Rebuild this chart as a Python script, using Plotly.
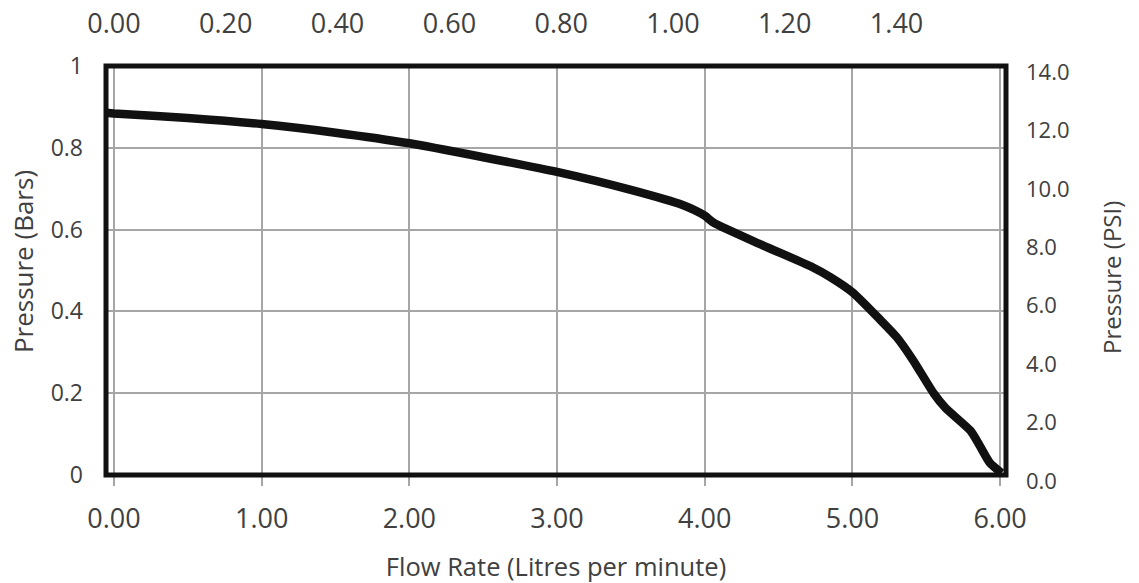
import plotly.graph_objects as go

# Flow rate (litres per minute) and pressure (bars)
flow_lpm = [-0.054, 0.0, 0.5, 1.0, 1.5, 2.0, 2.5, 3.0, 3.5, 3.85, 4.0, 4.06, 4.39, 4.73,
            4.85, 5.0, 5.19, 5.30, 5.41, 5.55, 5.63, 5.80, 5.86, 5.93, 6.01]
pressure_bar = [0.886, 0.884, 0.873, 0.858, 0.837, 0.811, 0.777, 0.741, 0.697, 0.660, 0.634, 0.617,
                0.562, 0.508, 0.484, 0.447, 0.379, 0.337, 0.281, 0.200, 0.164, 0.108, 0.073, 0.030, 0.005]

LITRES_PER_GALLON = 3.785
PSI_PER_BAR_AXIS = 14.0

x_range = [-0.054, 6.04]
y_range = [0, 1]

bottom_ticks = [0, 1, 2, 3, 4, 5, 6]
top_ticks = [0.0, 0.2, 0.4, 0.6, 0.8, 1.0, 1.2, 1.4]
left_ticks = [0, 0.2, 0.4, 0.6, 0.8, 1]
right_ticks = [0, 2, 4, 6, 8, 10, 12, 14]

x_title = "Flow Rate (Litres per minute)"
y_title = "Pressure (Bars)"
y2_title = "Pressure (PSI)"

FONT = "Open Sans"
TXT = "#404040"
GRID = "#a6a6a6"

fig = go.Figure()
fig.add_trace(go.Scatter(
    x=flow_lpm, y=pressure_bar, mode="lines",
    line=dict(color="#111111", width=8.5, shape="spline", smoothing=0.6),
    xaxis="x", yaxis="y", showlegend=False, hoverinfo="skip",
))
# companion trace in gallons / psi to anchor the secondary axes
fig.add_trace(go.Scatter(
    x=[v / LITRES_PER_GALLON for v in flow_lpm],
    y=[p * PSI_PER_BAR_AXIS for p in pressure_bar],
    mode="lines", line=dict(width=0, color="rgba(0,0,0,0)"),
    xaxis="x2", yaxis="y2", showlegend=False, hoverinfo="skip",
))

fig.update_layout(
    width=1139, height=583,
    margin=dict(l=106, r=133, t=66, b=108),
    paper_bgcolor="white", plot_bgcolor="white",
    font=dict(family=FONT, color=TXT),
    hovermode=False,
    xaxis=dict(
        range=x_range, tickvals=bottom_ticks, tickformat=".2f",
        showgrid=True, gridcolor=GRID, gridwidth=2,
        ticks="outside", ticklen=10, tickcolor=GRID, tickwidth=2,
        ticklabelstandoff=10,
        tickfont=dict(size=27, color=TXT), zeroline=False, showline=False,
        automargin=False,
        title=dict(text=x_title, font=dict(size=25.5, color=TXT), standoff=29),
    ),
    xaxis2=dict(
        overlaying="x", side="top",
        range=[v / LITRES_PER_GALLON for v in x_range],
        tickvals=top_ticks, tickformat=".2f",
        showgrid=False, zeroline=False, showline=False, ticks="",
        ticklabelstandoff=27, automargin=False,
        tickfont=dict(size=27, color=TXT),
    ),
    yaxis=dict(
        range=y_range, tickvals=left_ticks,
        showgrid=True, gridcolor=GRID, gridwidth=2,
        ticks="", zeroline=False, showline=False,
        ticklabelstandoff=22, automargin=False,
        tickfont=dict(size=23, color=TXT),
    ),
    yaxis2=dict(
        overlaying="y", side="right",
        range=[v * PSI_PER_BAR_AXIS for v in y_range],
        tickvals=right_ticks, tickformat=".1f",
        showgrid=False, zeroline=False, showline=False, ticks="",
        ticklabelstandoff=19, ticklabelshift=6, automargin=False,
        tickfont=dict(size=22, color=TXT),
    ),
    annotations=[
        dict(text=y_title, xref="paper", yref="paper", x=-0.092, y=0.521,
             xanchor="center", yanchor="middle", textangle=-90, showarrow=False,
             font=dict(size=26, color=TXT)),
        dict(text=y2_title, xref="paper", yref="paper", x=1.1178, y=0.4817,
             xanchor="center", yanchor="middle", textangle=-90, showarrow=False,
             font=dict(size=24, color=TXT)),
    ],
    shapes=[dict(type="rect", xref="paper", yref="paper", x0=0, x1=1, y0=0, y1=1,
                 line=dict(color="#111111", width=5), layer="above")],
)

# remove the default page margin so the figure fills the window exactly
fig.write_html("out.html", config={"displayModeBar": False},
               post_script="document.body.style.margin='0';")
